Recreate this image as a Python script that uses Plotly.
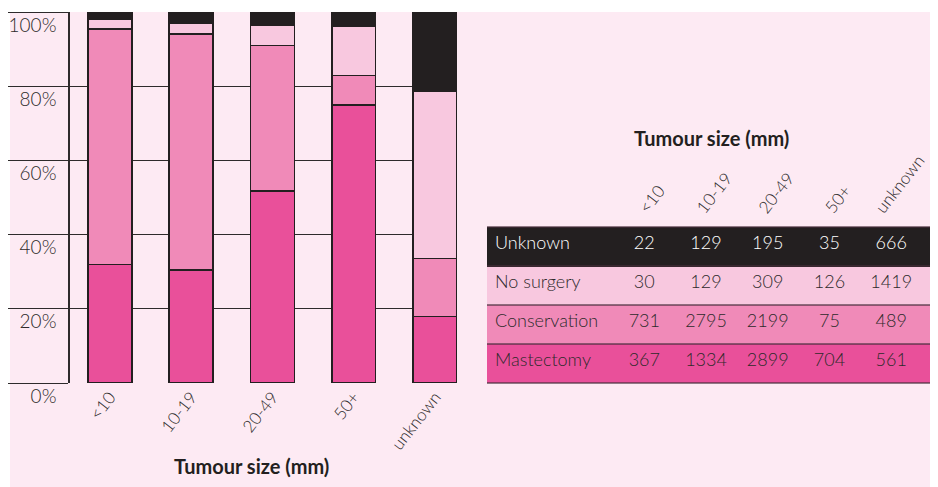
import plotly.graph_objects as go

# ---- data ----
categories = ["<10", "10-19", "20-49", "50+", "unknown"]
row_labels = ["Unknown", "No surgery", "Conservation", "Mastectomy"]
unknown = [22, 129, 195, 35, 666]
no_surgery = [30, 129, 309, 126, 1419]
conservation = [731, 2795, 2199, 75, 489]
mastectomy = [367, 1334, 2899, 704, 561]
y_ticks = [0, 0.2, 0.4, 0.6, 0.8, 1.0]
axis_title = "Tumour size (mm)"

# ---- styles ----
C_MAST = "#e9509a"
C_CONS = "#f08ab8"
C_NOS = "#f8c8df"
C_UNK = "#231f20"
BG = "#fdeaf3"
DARK = "#2e2a2b"
FONT = "Lato"
LIGHT = 300

# page body has an 8px margin; size the figure so it fits the 938x487 window
OFF = 8
W, H = 938 - OFF, 487 - OFF
ML, MR, MT, MB = 10 - OFF, 5, 12 - OFF, 104
PW = W - ML - MR
PH = H - MT - MB

def px_x(p):  # p = pixel in the window
    return (p - OFF - ML) / PW

def px_y(p):
    return (H - MB - (p - OFF)) / PH

fig = go.Figure()

series = [("Mastectomy", mastectomy, C_MAST), ("Conservation", conservation, C_CONS),
          ("No surgery", no_surgery, C_NOS), ("Unknown", unknown, C_UNK)]
for name, vals, col in series:
    fig.add_trace(go.Bar(x=categories, y=vals, name=name, width=0.54,
                         marker=dict(color=col, line=dict(color="#231f20", width=1.5)),
                         hoverinfo="skip"))

# ---- table (first data row used as the table header row) ----
table_left, table_right, table_top, row_h = 487, 933, 227, 39
row_fill = [C_UNK, C_NOS, C_CONS, C_MAST]
row_font = ["white", DARK, DARK, DARK]
columns = [row_labels] + [[str(v) for v in col] for col in zip(unknown, no_surgery, conservation, mastectomy)] + [[""] * 4]
ncol = len(columns)
col_w = [127] + [62] * 5 + [10]
aligns = ["left"] + ["center"] * (ncol - 1)
fig.add_trace(go.Table(
    domain=dict(x=[px_x(table_left), px_x(table_right)], y=[0, px_y(table_top)]),
    columnwidth=col_w,
    header=dict(values=[c[0] for c in columns],
                fill=dict(color=row_fill[0]),
                line=dict(color=row_fill[0], width=1),
                font=dict(family=FONT, size=18, color=row_font[0], weight=LIGHT),
                align=aligns, height=row_h),
    cells=dict(values=[c[1:] for c in columns],
               fill=dict(color=[row_fill[1:]] * ncol),
               line=dict(color=[row_fill[1:]] * ncol, width=1),
               font=dict(family=FONT, size=18, color=[row_font[1:]] * ncol, weight=LIGHT),
               align=aligns, height=row_h)))

shapes = [dict(type="rect", xref="paper", yref="paper", x0=0, x1=1, y0=-MB / PH, y1=1,
               fillcolor=BG, line=dict(width=0), layer="below")]
for i in range(len(row_labels) + 1):
    yy = px_y(table_top + i * row_h)
    shapes.append(dict(type="line", xref="paper", yref="paper", x0=px_x(table_left), x1=1,
                       y0=yy, y1=yy, line=dict(color="rgba(70,45,58,0.6)", width=2)))

annotations = []
val_left = table_left + col_w[0]
for j, c in enumerate(categories):
    cx = val_left + col_w[1] * (j + 0.5) + 7
    annotations.append(dict(x=px_x(cx), y=px_y(220), xref="paper", yref="paper", text=c,
                            textangle=-52, showarrow=False, xanchor="center", yanchor="bottom",
                            font=dict(family=FONT, size=17, color=DARK, weight=LIGHT)))
annotations.append(dict(x=px_x(711), y=px_y(138), xref="paper", yref="paper", text="<b>" + axis_title + "</b>",
                        showarrow=False, xanchor="center", yanchor="middle",
                        font=dict(family=FONT, size=20, color="#231f20")))
annotations.append(dict(x=px_x(251), y=px_y(466), xref="paper", yref="paper", text="<b>" + axis_title + "</b>",
                        showarrow=False, xanchor="center", yanchor="middle",
                        font=dict(family=FONT, size=20, color="#231f20")))

fig.update_layout(
    width=W, height=H, margin=dict(l=ML, r=MR, t=MT, b=MB, autoexpand=False),
    barmode="stack", barnorm="fraction", showlegend=False,
    paper_bgcolor="white", plot_bgcolor="rgba(0,0,0,0)",
    font=dict(family=FONT, size=17, color=DARK, weight=LIGHT),
    xaxis=dict(domain=[px_x(70), px_x(457)], type="category", range=[-0.49, 4.27],
               tickangle=-52, showgrid=False, ticks="", showline=False, zeroline=False,
               automargin=False,
               tickfont=dict(family=FONT, size=17, color=DARK, weight=LIGHT)),
    yaxis=dict(range=[0, 1], tickvals=y_ticks, tickformat=".0%", showgrid=True,
               gridcolor=DARK, gridwidth=1, showline=True, linecolor=DARK, linewidth=1.5,
               ticks="outside", ticklen=60, tickcolor=DARK, tickwidth=1,
               ticklabelshift=13, ticklabelstandoff=-52, zeroline=False, automargin=False,
               tickfont=dict(family=FONT, size=19, color=DARK, weight=LIGHT)),
    shapes=shapes, annotations=annotations,
)

fig.write_html("out.html")
